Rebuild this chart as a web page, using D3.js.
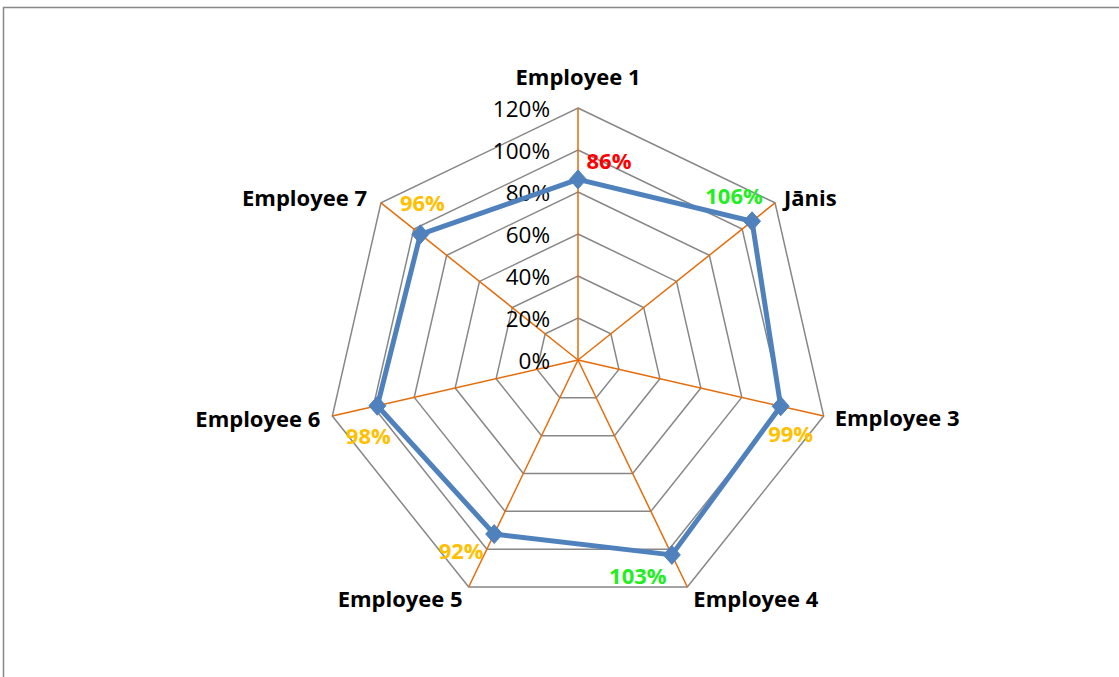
<!DOCTYPE html>
<html>
<head>
<meta charset="utf-8">
<script src="https://cdn.jsdelivr.net/npm/d3@7"></script>
<style>
  html, body { margin: 0; padding: 0; background: #fff; }
  svg { display: block; font-family: "Open Sans", "Liberation Sans", sans-serif; }
</style>
</head>
<body>
<svg id="chart" width="1119" height="677"></svg>
<script>
// Employee scores (share of target)
const categories = ["Employee 1", "Jānis", "Employee 3", "Employee 4", "Employee 5", "Employee 6", "Employee 7"];
const scores = [0.86, 1.06, 0.99, 1.03, 0.92, 0.98, 0.96];
const ticks = [0, 0.2, 0.4, 0.6, 0.8, 1.0, 1.2];
const labelColors = ["#FF0000", "#22EE22", "#FFC000", "#22EE22", "#FFC000", "#FFC000", "#FFC000"];

// Layout: value-label nudges relative to each point, and category label anchoring
const valueNudge = [[31, -19], [-18, -26], [10, 27], [-34, 20], [-33, 16], [-9, 29], [2, -32]];
const catLayout = [
  { anchor: "middle", dx: 0, dy: -32 },
  { anchor: "start", dx: 9, dy: -6 },
  { anchor: "start", dx: 11, dy: 1 },
  { anchor: "start", dx: 6, dy: 11 },
  { anchor: "end", dx: -6, dy: 11 },
  { anchor: "end", dx: -12, dy: 2 },
  { anchor: "end", dx: -14, dy: -6 }
];

const svg = d3.select("#chart");
const cx = 578, cy = 360, R = 252;

// chart area frame
svg.append("rect").attr("x", 3.5).attr("y", 7.5).attr("width", 1200).attr("height", 800)
  .attr("fill", "none").attr("stroke", "#888").attr("stroke-width", 1.5);

const r = d3.scaleLinear().domain([0, 1.2]).range([0, R]);
const angle = d3.scalePoint().domain(d3.range(categories.length)).range([0, 2 * Math.PI * (categories.length - 1) / categories.length]);
const pt = (i, v) => [cx + r(v) * Math.sin(angle(i)), cy - r(v) * Math.cos(angle(i))];

const g = svg.append("g");

// gridline polygons
ticks.filter(t => t > 0).forEach(t => {
  g.append("path")
    .attr("d", d3.line()(categories.map((c, i) => pt(i, t))) + "Z")
    .attr("fill", "none").attr("stroke", "#878787").attr("stroke-width", 1.5);
});

// spokes
categories.forEach((c, i) => {
  const [x, y] = pt(i, 1.2);
  g.append("line").attr("x1", cx).attr("y1", cy).attr("x2", x).attr("y2", y)
    .attr("stroke", "#E46C0A").attr("stroke-width", 1.5);
});

// tick labels
ticks.forEach(t => {
  g.append("text").attr("x", cx - 28).attr("y", cy - r(t))
    .attr("text-anchor", "end").attr("dominant-baseline", "central")
    .attr("font-size", 22.5).attr("fill", "#000")
    .text(d3.format(".0%")(t));
});

// category labels
categories.forEach((c, i) => {
  const [x, y] = pt(i, 1.2);
  const L = catLayout[i];
  g.append("text").attr("x", x + L.dx).attr("y", y + L.dy)
    .attr("text-anchor", L.anchor).attr("dominant-baseline", "central")
    .attr("font-size", 22).attr("font-weight", "bold").attr("fill", "#000")
    .text(c);
});

// series line
const pts = scores.map((v, i) => pt(i, v));
g.append("path").attr("d", d3.line()(pts) + "Z")
  .attr("fill", "none").attr("stroke", "#4F81BD").attr("stroke-width", 5)
  .attr("stroke-linejoin", "round");

// diamond markers
g.selectAll(".mk").data(pts).join("path")
  .attr("transform", d => `translate(${d[0]},${d[1]})`)
  .attr("d", "M0,-9.5L8.5,0L0,9.5L-8.5,0Z")
  .attr("fill", "#4F81BD").attr("stroke", "#4F81BD").attr("stroke-width", 1);

// value labels
scores.forEach((v, i) => {
  const [x, y] = pts[i];
  g.append("text").attr("x", x + valueNudge[i][0]).attr("y", y + valueNudge[i][1])
    .attr("text-anchor", "middle").attr("dominant-baseline", "central")
    .attr("font-size", 22).attr("font-weight", "bold").attr("fill", labelColors[i])
    .text(d3.format(".0%")(v));
});
</script>
</body>
</html>
